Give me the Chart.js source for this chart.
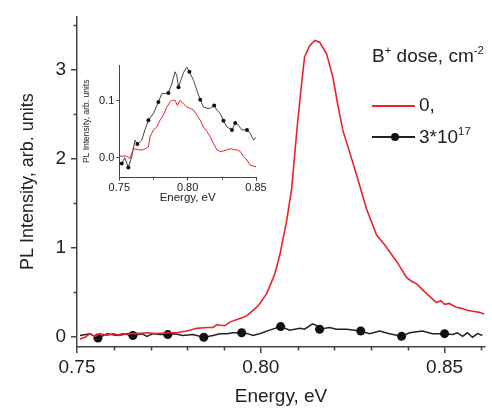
<!DOCTYPE html>
<html>
<head>
<meta charset="utf-8">
<script src="https://cdn.jsdelivr.net/npm/chart.js@4.4.1/dist/chart.umd.min.js"></script>
<style>
  html, body { margin: 0; padding: 0; background: #fff; }
  #wrap { position: relative; width: 492px; height: 409px; overflow: hidden;
          font-family: 'Liberation Sans', Arial, sans-serif; color: #222; }
  #main { position: absolute; left: 0; top: 0; }
  #inset { position: absolute; left: 80px; top: 55px; }
  .leg { position: absolute; font-size: 19px; line-height: 22px; white-space: nowrap; }
  .leg sup { font-size: 0.6em; line-height: 0; vertical-align: 0.7em; }
  .ln { position: absolute; height: 1.5px; width: 43px; }
  .dot { position: absolute; width: 8px; height: 8px; border-radius: 50%; background: #111; }
</style>
</head>
<body>
<div id="wrap">
  <canvas id="main" width="492" height="409"></canvas>
  <canvas id="inset" width="190" height="155"></canvas>
  <div class="leg" style="left:372px; top:45px;">B<sup>+</sup> dose, cm<sup>-2</sup></div>
  <div class="ln" style="left:372px; top:105px; background:#e8232b;"></div>
  <div class="leg" style="left:419px; top:94px;">0,</div>
  <div class="ln" style="left:372px; top:136px; background:#222;"></div>
  <div class="dot" style="left:391px; top:133px;"></div>
  <div class="leg" style="left:419px; top:126px;">3*10<sup>17</sup></div>
</div>
<script>
// main plot: dose 0 (red)
const redE = [0.7508, 0.7522, 0.7535, 0.7549, 0.7562, 0.7582, 0.7598, 0.7617, 0.7636, 0.7663,
  0.7690, 0.7717, 0.7745, 0.7772, 0.7799, 0.7826, 0.7853, 0.7870, 0.7880, 0.7902,
  0.7916, 0.7943, 0.7962, 0.7978, 0.7992, 0.8016, 0.8038, 0.8052, 0.8070, 0.8084,
  0.8092, 0.8100, 0.8111, 0.8119, 0.8133, 0.8147, 0.8160, 0.8179, 0.8196, 0.8209,
  0.8223, 0.8242, 0.8261, 0.8288, 0.8315, 0.8337, 0.8370, 0.8397, 0.8410, 0.8424,
  0.8451, 0.8478, 0.8490, 0.8500, 0.8513, 0.8530, 0.8549, 0.8565, 0.8581, 0.8595, 0.8608];
const redI = [-0.03, -0.01, 0.03, 0.00, 0.03, 0.01, 0.03, 0.01, 0.03, 0.03,
  0.04, 0.03, 0.04, 0.04, 0.06, 0.09, 0.10, 0.10, 0.13, 0.12,
  0.16, 0.20, 0.23, 0.29, 0.34, 0.48, 0.70, 0.92, 1.29, 1.66,
  2.03, 2.40, 2.84, 3.14, 3.27, 3.33, 3.31, 3.18, 2.92, 2.62,
  2.32, 2.07, 1.81, 1.43, 1.14, 1.03, 0.84, 0.66, 0.62, 0.59,
  0.48, 0.38, 0.40, 0.36, 0.37, 0.33, 0.31, 0.29, 0.28, 0.27, 0.25];

// main plot: dose 3*10^17 (black)
const blackE = [0.7508, 0.7535, 0.7557, 0.7582, 0.7609, 0.7625, 0.7652, 0.7677, 0.7690, 0.7707,
  0.7726, 0.7747, 0.7766, 0.7788, 0.7815, 0.7845, 0.7870, 0.7889, 0.7908, 0.7924,
  0.7948, 0.7965, 0.7978, 0.7997, 0.8024, 0.8054, 0.8079, 0.8106, 0.8119, 0.8141,
  0.8152, 0.8160, 0.8187, 0.8206, 0.8234, 0.8272, 0.8296, 0.8323, 0.8350, 0.8383,
  0.8405, 0.8440, 0.8467, 0.8500, 0.8522, 0.8535, 0.8549, 0.8562, 0.8576, 0.8590, 0.8603];
const blackI = [0.01, 0.03, -0.02, 0.03, 0.01, 0.03, 0.01, 0.03, 0.00, 0.03,
  0.02, 0.02, 0.03, 0.01, 0.02, -0.01, 0.01, 0.03, 0.03, 0.04,
  0.04, 0.03, 0.01, 0.03, 0.07, 0.11, 0.07, 0.09, 0.08, 0.14,
  0.12, 0.08, 0.10, 0.08, 0.08, 0.06, 0.03, 0.06, 0.03, 0.00,
  0.04, 0.06, 0.03, 0.03, 0.02, 0.04, 0.00, 0.04, -0.01, 0.03, 0.01];
const blackMarkE = [0.7557, 0.7652, 0.7747, 0.7845, 0.7948, 0.8054, 0.8160, 0.8272, 0.8383, 0.8500];

// inset
const insetRedE = [0.7500, 0.7554, 0.7578, 0.7603, 0.7640, 0.7676, 0.7713, 0.7725, 0.7750, 0.7774,
  0.7798, 0.7823, 0.7847, 0.7872, 0.7884, 0.7908, 0.7925, 0.7945, 0.7969, 0.7994,
  0.8018, 0.8043, 0.8067, 0.8092, 0.8116, 0.8141, 0.8165, 0.8189, 0.8214, 0.8238,
  0.8262, 0.8287, 0.8312, 0.8336, 0.8360, 0.8385, 0.8409, 0.8434, 0.8458, 0.8500];
const insetRedI = [0.003, 0.003, -0.001, 0.016, 0.014, 0.014, 0.019, 0.037, 0.049, 0.054,
  0.066, 0.075, 0.089, 0.098, 0.101, 0.101, 0.092, 0.101, 0.095, 0.089,
  0.087, 0.084, 0.075, 0.066, 0.054, 0.046, 0.037, 0.025, 0.014, 0.011,
  0.012, 0.014, 0.016, 0.014, 0.014, 0.011, 0.002, -0.004, -0.013, -0.016];
const insetBlackE = [0.7500, 0.7518, 0.7540, 0.7566, 0.7591, 0.7615, 0.7632, 0.7664, 0.7688, 0.7713,
  0.7750, 0.7786, 0.7811, 0.7835, 0.7859, 0.7884, 0.7908, 0.7920, 0.7933, 0.7950,
  0.7970, 0.7994, 0.8013, 0.8043, 0.8067, 0.8092, 0.8116, 0.8141, 0.8165, 0.8194,
  0.8214, 0.8238, 0.8262, 0.8287, 0.8324, 0.8348, 0.8372, 0.8397, 0.8434, 0.8458, 0.8482, 0.8500];
const insetBlackI = [-0.008, -0.010, 0.000, -0.017, 0.002, 0.031, 0.024, 0.031, 0.049, 0.066,
  0.078, 0.098, 0.113, 0.113, 0.114, 0.130, 0.151, 0.145, 0.124, 0.136,
  0.150, 0.159, 0.151, 0.136, 0.119, 0.102, 0.089, 0.087, 0.087, 0.092,
  0.084, 0.078, 0.065, 0.054, 0.049, 0.061, 0.057, 0.049, 0.049, 0.043, 0.031, 0.036];
const insetBlackMarkE = [0.7518, 0.7566, 0.7632, 0.7713, 0.7786, 0.7859, 0.7933, 0.8013, 0.8092,
  0.8194, 0.8262, 0.8324, 0.8348, 0.8434];

const mainXTicks = [0.75, 0.80, 0.85];
const mainYTicks = [0, 1, 2, 3];

const FONT = "'Liberation Sans', Arial, sans-serif";
const AXIS = '#444';
const RED = '#e8232b';

const pts = (xs, ys) => xs.map((x, i) => ({ x, y: ys[i] }));

// short minor ticks drawn at scale positions
const minorTicks = {
  id: 'minorTicks',
  afterDraw(chart, args, opts) {
    const { ctx, chartArea, scales } = chart;
    ctx.save();
    ctx.strokeStyle = AXIS;
    ctx.lineWidth = opts.width;
    ctx.beginPath();
    opts.x.forEach(v => {
      const px = Math.round(scales.x.getPixelForValue(v)) + 0.5;
      ctx.moveTo(px, chartArea.bottom);
      ctx.lineTo(px, chartArea.bottom + opts.len);
    });
    opts.y.forEach(v => {
      const py = Math.round(scales.y.getPixelForValue(v)) + 0.5;
      ctx.moveTo(chartArea.left, py);
      ctx.lineTo(chartArea.left - opts.len, py);
    });
    ctx.stroke();
    ctx.restore();
  }
};

function axis(o) {
  return {
    type: 'linear',
    min: o.min, max: o.max,
    afterFit: o.fit,
    border: { display: true, color: AXIS, width: o.bw },
    grid: { drawOnChartArea: false, drawTicks: true, tickLength: o.tl, color: AXIS, lineWidth: o.bw },
    ticks: {
      stepSize: o.step, includeBounds: false, autoSkip: false, maxRotation: 0,
      padding: o.pad, color: '#222', font: { family: FONT, size: o.fs },
      callback: v => v.toFixed(o.dec)
    },
    title: { display: true, text: o.title, color: '#222',
             font: { family: FONT, size: o.tfs }, padding: o.tpad }
  };
}

new Chart(document.getElementById('main'), {
  type: 'line',
  data: {
    datasets: [
      { data: pts(redE, redI), borderColor: RED, borderWidth: 1.6, pointRadius: 0, tension: 0 },
      { data: pts(blackE, blackI), borderColor: '#222', borderWidth: 1.5, tension: 0,
        pointRadius: c => blackMarkE.includes(c.raw.x) ? 4.5 : 0,
        pointBackgroundColor: '#111', pointBorderColor: '#111', pointBorderWidth: 0 }
    ]
  },
  options: {
    responsive: false, animation: false, devicePixelRatio: 1,
    layout: { padding: { top: 13, right: 7, left: 0, bottom: 0 } },
    plugins: {
      legend: { display: false }, tooltip: { enabled: false },
      minorTicks: { len: 3.5, width: 1.5, x: [0.76, 0.77, 0.78, 0.79, 0.81, 0.82, 0.83, 0.84, 0.86], y: [0.5, 1.5, 2.5, 3.5] }
    },
    scales: {
      x: axis({ min: 0.75, max: 0.861, step: 0.05, dec: 2, fs: 19, pad: 3, tl: 6, bw: 1.5,
                title: 'Energy, eV', tfs: 19, tpad: { top: 0, bottom: 1 },
                fit: s => { s.height = 62; } }),
      y: axis({ min: -0.12, max: 3.6, step: 1, dec: 0, fs: 19, pad: 5, tl: 6, bw: 1.5,
                title: 'PL Intensity, arb. units', tfs: 18, tpad: { top: 17, bottom: 0 },
                fit: s => { s.width = 77; } })
    }
  },
  plugins: [minorTicks]
});

new Chart(document.getElementById('inset'), {
  type: 'line',
  data: {
    datasets: [
      { data: pts(insetRedE, insetRedI), borderColor: RED, borderWidth: 1, pointRadius: 0, tension: 0 },
      { data: pts(insetBlackE, insetBlackI), borderColor: '#444', borderWidth: 1, tension: 0,
        pointRadius: c => insetBlackMarkE.includes(c.raw.x) ? 2 : 0,
        pointBackgroundColor: '#111', pointBorderColor: '#111', pointBorderWidth: 0 }
    ]
  },
  options: {
    responsive: false, animation: false, devicePixelRatio: 1,
    layout: { padding: { top: 10, right: 14, left: 0, bottom: 0 } },
    plugins: {
      legend: { display: false }, tooltip: { enabled: false },
      minorTicks: { len: 2, width: 1, x: [0.775, 0.825], y: [] }
    },
    scales: {
      x: axis({ min: 0.75, max: 0.85, step: 0.05, dec: 2, fs: 11, pad: 1, tl: 3, bw: 1,
                title: 'Energy, eV', tfs: 11.5, tpad: { top: 0, bottom: 5 },
                fit: s => { s.height = 32.3; } }),
      y: axis({ min: -0.035, max: 0.163, step: 0.1, dec: 1, fs: 11, pad: 2, tl: 3, bw: 1,
                title: 'PL Intensity, arb. units', tfs: 8.5, tpad: { top: 2, bottom: 0 },
                fit: s => { s.width = 39.3; } })
    }
  },
  plugins: [minorTicks]
});
</script>
</body>
</html>
